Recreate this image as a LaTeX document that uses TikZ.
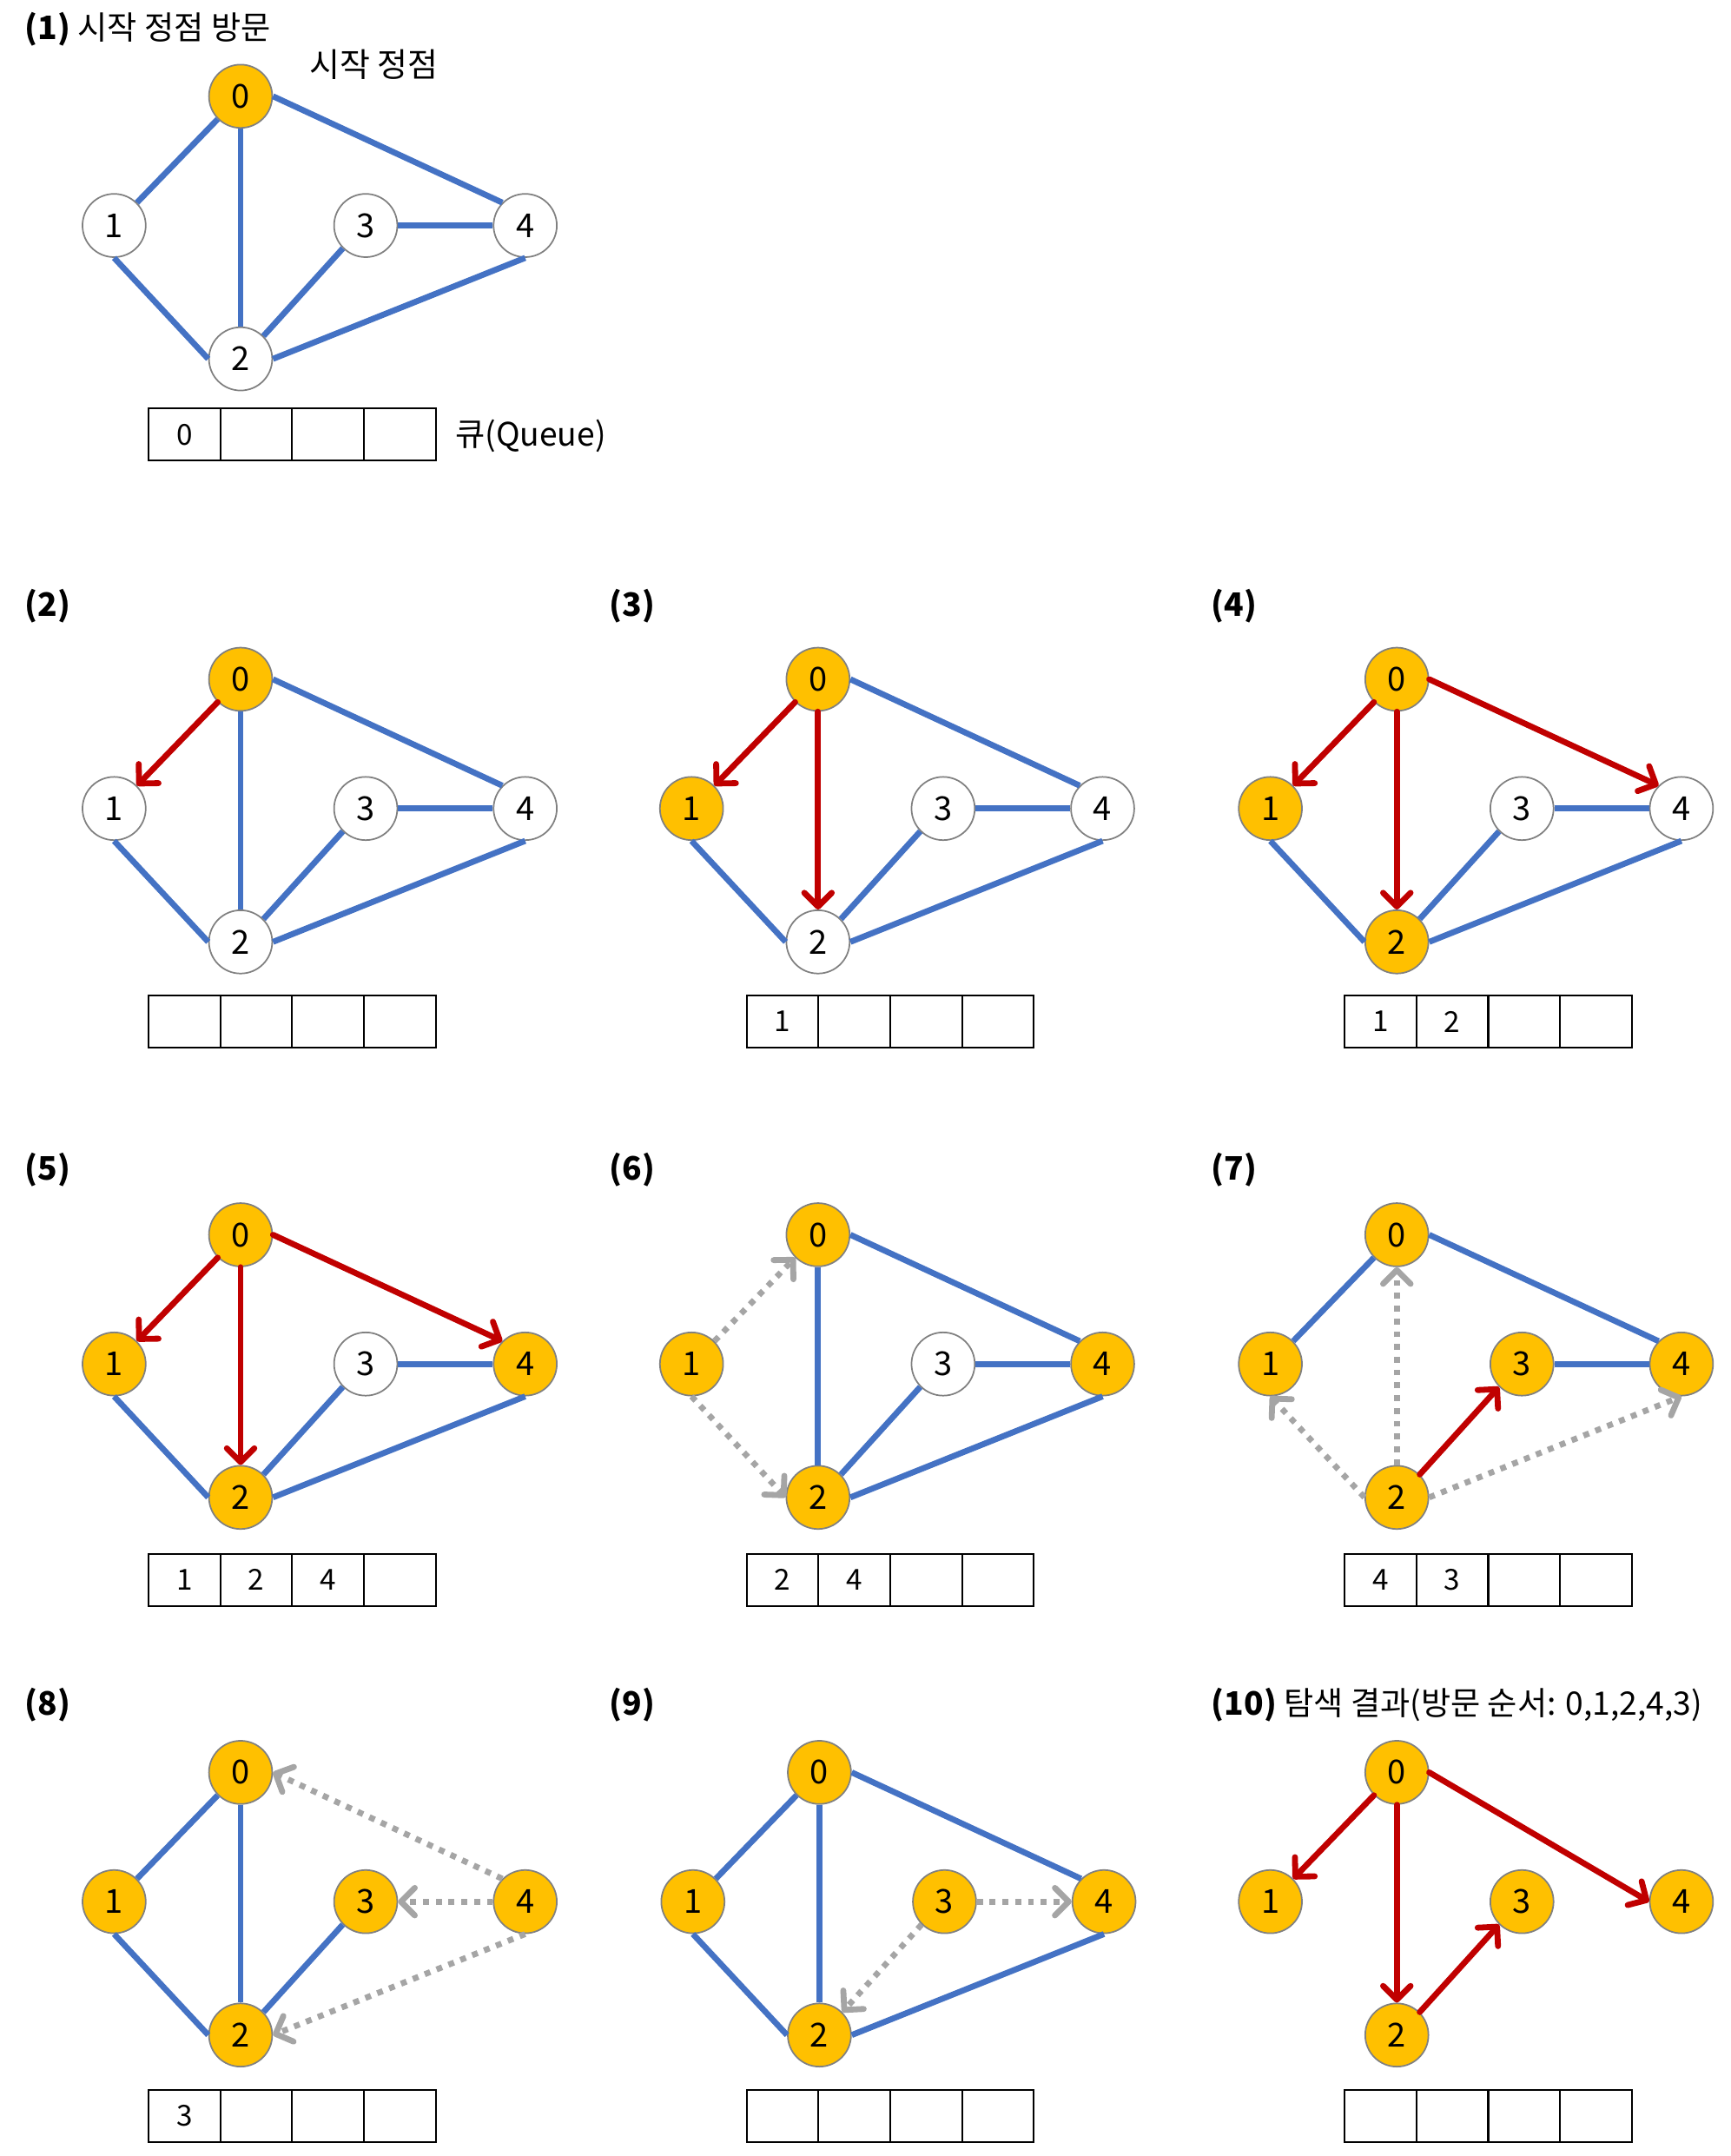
\documentclass[tikz,border=0pt]{standalone}
\usepackage{fontspec}
\setmainfont{Noto Sans CJK KR}
\usetikzlibrary{arrows.meta}
\definecolor{eblue}{HTML}{4472C4}
\definecolor{ered}{HTML}{C00000}
\definecolor{egray}{HTML}{A5A5A5}
\definecolor{vy}{HTML}{FFC000}
\definecolor{vb}{HTML}{808080}
\tikzset{
  vtx/.style={circle, draw=vb, line width=1.1pt, minimum size=46pt, inner sep=0pt, font=\fontsize{24}{24}\selectfont},
  qcell/.style={rectangle, draw=black, line width=1.3pt, minimum width=52.25pt, minimum height=38pt, inner sep=0pt, font=\fontsize{21}{21}\selectfont},
  ed/.style={draw=eblue, line width=4.3pt},
  tr/.style={draw=ered, line width=4.3pt, line cap=round, -{Straight Barb[length=10pt,width=20pt,line cap=round,line join=round]}},
  gd/.style={draw=egray, line width=4.3pt, dash pattern=on 4.3pt off 5pt, -{Straight Barb[length=10pt,width=20pt,line cap=round,line join=round]}},
  ttl/.style={anchor=west, inner sep=0pt, font=\fontsize{23.5}{23.5}\selectfont},
  lbl/.style={inner sep=0pt, font=\fontsize{24}{24}\selectfont}
}
\newcommand\gnodes[8]{%
  \begin{scope}[shift={(#2,#3)}]
    \node[vtx,fill=#4] (#10) at (0,0) {0};
    \node[vtx,fill=#5] (#11) at (-92,94) {1};
    \node[vtx,fill=#6] (#12) at (0,191) {2};
    \node[vtx,fill=#7] (#13) at (91,94) {3};
    \node[vtx,fill=#8] (#14) at (207,94) {4};
  \end{scope}}
\newcommand\qbox[7]{%
  \begin{scope}[shift={(#2,#3)}]
    \node[qcell] (q#11) at (26.125,19) {#4};
    \node[qcell] (q#12) at (78.375,19) {#5};
    \node[qcell] (q#13) at (130.625,19) {#6};
    \node[qcell] (q#14) at (182.875,19) {#7};
  \end{scope}}
\begin{document}
\begin{tikzpicture}[x=1pt,y=-1pt]
\useasboundingbox[fill=white] (0,0) rectangle (1259,1568);

% ---------- (1)
\node[ttl] (t1) at (18,21) {\textbf{(1)} 시작 정점 방문};
\gnodes{a}{175}{70}{vy}{white}{white}{white}{white}
\node[lbl] (start) at (272,47) {시작 정점};
\qbox{a}{108}{297}{0}{}{}{}
\node[ttl] (qlabel) at (331,317) {큐(Queue)};
\draw[ed] (a0.south west) -- (a1.north east);
\draw[ed] (a0.south) -- (a2.north);
\draw[ed] (a0.east) -- (a4.north west);
\draw[ed] (a1.south) -- (a2.west);
\draw[ed] (a2.north east) -- (a3.south west);
\draw[ed] (a3.east) -- (a4.west);
\draw[ed] (a2.east) -- (a4.south);

% ---------- (2)
\node[ttl] (t2) at (18,441) {\textbf{(2)}};
\gnodes{b}{175}{494}{vy}{white}{white}{white}{white}
\qbox{b}{108}{724}{}{}{}{}
\draw[tr] (b0.south west) -- (b1.north east);
\draw[ed] (b0.south) -- (b2.north);
\draw[ed] (b0.east) -- (b4.north west);
\draw[ed] (b1.south) -- (b2.west);
\draw[ed] (b2.north east) -- (b3.south west);
\draw[ed] (b3.east) -- (b4.west);
\draw[ed] (b2.east) -- (b4.south);

% ---------- (3)
\node[ttl] (t3) at (443,441) {\textbf{(3)}};
\gnodes{c}{595}{494}{vy}{vy}{white}{white}{white}
\qbox{c}{543}{724}{1}{}{}{}
\draw[tr] (c0.south west) -- (c1.north east);
\draw[tr] (c0.south) -- (c2.north);
\draw[ed] (c0.east) -- (c4.north west);
\draw[ed] (c1.south) -- (c2.west);
\draw[ed] (c2.north east) -- (c3.south west);
\draw[ed] (c3.east) -- (c4.west);
\draw[ed] (c2.east) -- (c4.south);

% ---------- (4)
\node[ttl] (t4) at (881,441) {\textbf{(4)}};
\gnodes{d}{1016}{494}{vy}{vy}{vy}{white}{white}
\qbox{d}{978}{724}{1}{2}{}{}
\draw[tr] (d0.south west) -- (d1.north east);
\draw[tr] (d0.south) -- (d2.north);
\draw[tr] (d0.east) -- (d4.north west);
\draw[ed] (d1.south) -- (d2.west);
\draw[ed] (d2.north east) -- (d3.south west);
\draw[ed] (d3.east) -- (d4.west);
\draw[ed] (d2.east) -- (d4.south);

% ---------- (5)
\node[ttl] (t5) at (18,851) {\textbf{(5)}};
\gnodes{e}{175}{898}{vy}{vy}{vy}{white}{vy}
\qbox{e}{108}{1130}{1}{2}{4}{}
\draw[tr] (e0.south west) -- (e1.north east);
\draw[tr] (e0.south) -- (e2.north);
\draw[tr] (e0.east) -- (e4.north west);
\draw[ed] (e1.south) -- (e2.west);
\draw[ed] (e2.north east) -- (e3.south west);
\draw[ed] (e3.east) -- (e4.west);
\draw[ed] (e2.east) -- (e4.south);

% ---------- (6)
\node[ttl] (t6) at (443,851) {\textbf{(6)}};
\gnodes{f}{595}{898}{vy}{vy}{vy}{white}{vy}
\qbox{f}{543}{1130}{2}{4}{}{}
\draw[gd] (f1.north east) -- (f0.south west);
\draw[gd] (f1.south) -- (f2.west);
\draw[ed] (f0.south) -- (f2.north);
\draw[ed] (f0.east) -- (f4.north west);
\draw[ed] (f2.north east) -- (f3.south west);
\draw[ed] (f3.east) -- (f4.west);
\draw[ed] (f2.east) -- (f4.south);

% ---------- (7)
\node[ttl] (t7) at (881,851) {\textbf{(7)}};
\gnodes{g}{1016}{898}{vy}{vy}{vy}{vy}{vy}
\qbox{g}{978}{1130}{4}{3}{}{}
\draw[gd] (g2.west) -- (g1.south);
\draw[gd] (g2.north) -- (g0.south);
\draw[gd] (g2.east) -- (g4.south);
\draw[tr] (g2.north east) -- (g3.south west);
\draw[ed] (g0.south west) -- (g1.north east);
\draw[ed] (g0.east) -- (g4.north west);
\draw[ed] (g3.east) -- (g4.west);

% ---------- (8)
\node[ttl] (t8) at (18,1240) {\textbf{(8)}};
\gnodes{h}{175}{1289}{vy}{vy}{vy}{vy}{vy}
\qbox{h}{108}{1520}{3}{}{}{}
\draw[gd] (h4.north west) -- (h0.east);
\draw[gd] (h4.west) -- (h3.east);
\draw[gd] (h4.south) -- (h2.east);
\draw[ed] (h0.south west) -- (h1.north east);
\draw[ed] (h0.south) -- (h2.north);
\draw[ed] (h1.south) -- (h2.west);
\draw[ed] (h2.north east) -- (h3.south west);

% ---------- (9)
\node[ttl] (t9) at (443,1240) {\textbf{(9)}};
\gnodes{i}{596}{1289}{vy}{vy}{vy}{vy}{vy}
\qbox{i}{543}{1520}{}{}{}{}
\draw[gd] (i3.east) -- (i4.west);
\draw[gd] (i3.south west) -- (i2.north east);
\draw[ed] (i0.south west) -- (i1.north east);
\draw[ed] (i0.south) -- (i2.north);
\draw[ed] (i0.east) -- (i4.north west);
\draw[ed] (i1.south) -- (i2.west);
\draw[ed] (i2.east) -- (i4.south);

% ---------- (10)
\node[ttl] (t10) at (881,1240) {\textbf{(10)} 탐색 결과(방문 순서: 0,1,2,4,3)};
\gnodes{j}{1016}{1289}{vy}{vy}{vy}{vy}{vy}
\qbox{j}{978}{1520}{}{}{}{}
\draw[tr] (j0.south west) -- (j1.north east);
\draw[tr] (j0.south) -- (j2.north);
\draw[tr] (j0.east) -- (j4.west);
\draw[tr] (j2.north east) -- (j3.south west);
\end{tikzpicture}
\end{document}
